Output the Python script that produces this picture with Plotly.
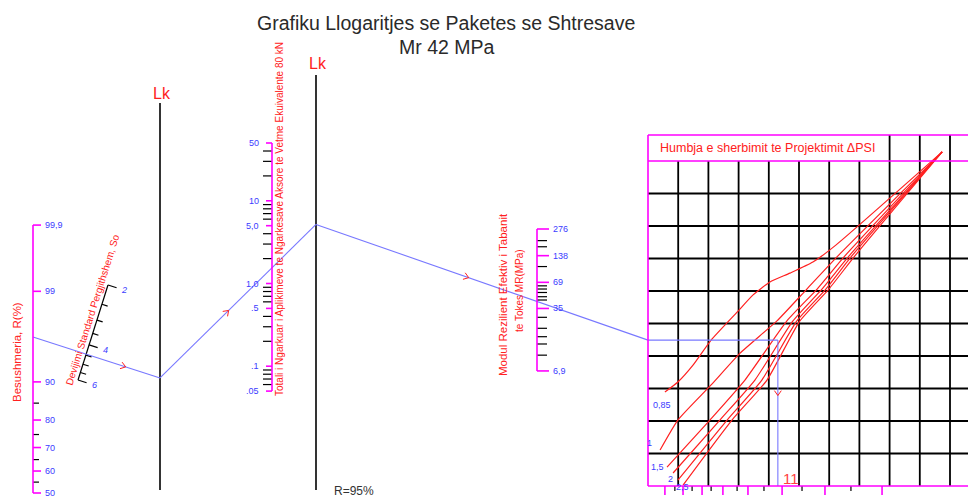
import math
from statistics import NormalDist
import plotly.graph_objects as go

# ------------------------- data -------------------------
title_main = "Grafiku Llogaritjes se Paketes se Shtresave"
title_sub = "Mr 42 MPa"

# Reliability axis R (%)
R_major = [99.9, 99, 90, 80, 70, 60, 50]
R_major_labels = ["99,9", "99", "90", "80", "70", "60", "50"]
R_minor = [85, 75, 65, 55]

# Overall standard deviation So
So_major = [2, 4, 6]
So_major_labels = ["2", "4", "6"]
So_minor = [2.5, 3, 3.5, 4.5, 5, 5.5]

# Total ESAL (millions)
W18_major = [50, 10, 5, 1, 0.5, 0.1, 0.05]
W18_major_labels = ["50", "10", "5,0", "1,0", ".5", ".1", ".05"]
W18_minor = [40, 30, 20, 9, 8, 7, 6, 4, 3, 2, 0.9, 0.8, 0.7, 0.6,
             0.4, 0.3, 0.2, 0.09, 0.08, 0.07, 0.06]

# Subgrade resilient modulus MR (MPa)
Mr_major = [276, 138, 69, 35, 6.9]
Mr_major_labels = ["276", "138", "69", "35", "6,9"]
Mr_minor = [204, 174, 104, 63, 58, 53, 47.5, 43.6, 27.8, 20.9, 16.8, 13.9, 10.4]

# Design solution
R_design = 96.4
So_design = 4.45
W18_design = 1.55
Mr_design = 42
grid_design = 4.3          # grid column where the result drops down
result_label = "11"
reliability_note = "R=95%"

# Serviceability-loss curves (grid units: column, row)
dpsi_labels = ["0,85", "1", "1,5", "2", "2,5", ""]
dpsi_curves_x = [
    [0.56, 0.99, 1.49, 2.09, 2.95, 3.48, 4.04, 4.70, 5.46, 6.23, 9.74],
    [0.40, 0.99, 2.09, 3.05, 4.27, 5.26, 6.29, 9.74],
    [0.63, 2.05, 3.21, 4.60, 5.60, 6.52, 9.74],
    [0.83, 2.38, 3.54, 4.80, 5.76, 6.66, 9.74],
    [0.99, 2.62, 3.77, 4.93, 5.89, 6.75, 9.74],
    [1.16, 2.78, 3.94, 5.03, 5.99, 6.85, 9.74],
]
dpsi_curves_y = [
    [2.89, 3.20, 3.72, 4.49, 5.35, 5.88, 6.28, 6.55, 6.89, 7.42, 10.28],
    [1.11, 2.03, 3.11, 4.09, 5.08, 6.06, 7.08, 10.28],
    [0.58, 2.03, 3.26, 5.08, 6.06, 7.08, 10.28],
    [0.40, 2.03, 3.26, 5.08, 6.06, 7.08, 10.28],
    [0.18, 2.03, 3.26, 5.08, 6.06, 7.08, 10.28],
    [0.03, 2.03, 3.26, 5.08, 6.06, 7.08, 10.28],
]
dpsi_label_pos = [(0.45, 2.5), (0.05, 1.32), (0.3, 0.58), (0.75, 0.22), (1.15, -0.02), (0, 0)]

# bottom scale ticks (grid units)
bottom_major = [0.56, 1.16, 1.79, 2.48, 3.31, 4.44, 5.86, 7.75]
bottom_minor = [0.89, 1.46, 2.09, 2.95, 3.84, 5.10, 6.72]

header_text = "Humbja e sherbimit te Projektimit ΔPSI"
R_title = "Besushmeria, R(%)"
So_title = "Devijimi Standard Pergjithshem, So"
W18_title = "Totali i Ngarkuar i Aplikimeve te Ngarkesave Aksore te Vetme Ekuivalente 80 kN"
Mr_title_1 = "Modul Rezilient Efektiv i Tabanit"
Mr_title_2 = "te Tokes MR(MPa)"
pivot_label = "Lk"

# ------------------------- scales -------------------------
W, H = 968, 497
FONT = "Liberation Sans, Arial, sans-serif"
BLACK = "#000000"
MAG = "#ff00ff"
BLUE_TXT = "#3b3bff"
RED = "#ff2020"
BLUE_LN = "#7878ff"

ND = NormalDist()
R_X = 33
def yR(v):
    return 493 - 86.7 * ND.inv_cdf(v / 100.0)

SO_BOT = (78.0, 380.0)   # value 6
SO_TOP = (108.0, 285.0)  # value 2
def so_pt(v):
    t = math.log(6.0 / v) / math.log(3.0)
    return (SO_BOT[0] + (SO_TOP[0] - SO_BOT[0]) * t,
            SO_BOT[1] + (SO_TOP[1] - SO_BOT[1]) * t)

W_X = 272
def yW(v):
    return 143 + (math.log10(50) - math.log10(v)) * 82.7

M_X = 537
def yM(v):
    return 229 + (math.log10(276) - math.log10(v)) * 88.6

LK1_X, LK2_X = 160, 316

G_X0, G_DX = 648.0, 30.2
G_Y0, G_DY = 486.0, 32.5
def GX(g):
    return G_X0 + G_DX * g
def GY(g):
    return G_Y0 - G_DY * g

# ------------------------- drawing helpers -------------------------
lines = {}
order = []
def seg(key, x0, y0, x1, y1):
    if key not in lines:
        lines[key] = ([], [])
        order.append(key)
    xs, ys = lines[key]
    xs += [x0, x1, None]
    ys += [y0, y1, None]

annots = []
def text(x, y, s, size=9, color=BLUE_TXT, xa="center", ya="middle", angle=0, italic=False):
    f = dict(family=FONT, size=size, color=color)
    if italic:
        f["style"] = "italic"
    annots.append(dict(x=x, y=y, xref="x", yref="y", text=s, showarrow=False,
                       xanchor=xa, yanchor=ya, textangle=angle, font=f))

K_GRID = (BLACK, 1.8)
K_PIV = (BLACK, 1.6)
K_TICK = (BLACK, 1.2)
K_MAG = (MAG, 1.6)
K_BLUE = (BLUE_LN, 1.1)
K_ARR = (RED, 1.0)

# ---- grid (right panel) ----
for c in range(1, 11):
    top = 10.8 if c >= 8 else 10.0
    seg(K_GRID, GX(c), GY(0), GX(c), GY(top))
for r in range(1, 10):
    seg(K_GRID, GX(0), GY(r), W, GY(r))
for g in bottom_minor:
    seg(K_TICK, GX(g), GY(0), GX(g), GY(0) + 5)

# ---- R axis ----
seg(K_MAG, R_X, yR(99.9), R_X, yR(50))
for v, lab in zip(R_major, R_major_labels):
    seg(K_MAG, R_X, yR(v), R_X + 8, yR(v))
    text(R_X + 10, yR(v), lab, size=9, xa="left")
for v in R_minor:
    seg(K_TICK, R_X, yR(v), R_X + 6, yR(v))
text(17, 352, R_title, size=11.5, color=RED, angle=-90)

# ---- So axis ----
bx, by = so_pt(6)
tx, ty = so_pt(2)
seg(K_TICK, bx, by, tx, ty)
dx, dy = tx - bx, ty - by
L = math.hypot(dx, dy)
nx, ny = -dy / L, dx / L
for v, lab in zip(So_major, So_major_labels):
    px, py = so_pt(v)
    seg(K_TICK, px, py, px + nx * 9, py + ny * 9)
    text(px + nx * 17, py + ny * 17, lab, size=9, italic=True)
for v in So_minor:
    px, py = so_pt(v)
    seg(K_TICK, px, py, px + nx * 6, py + ny * 6)
ang = math.degrees(math.atan2(-dy, dx))
mx, my = so_pt(2.73)
text(mx - nx * 7, my - ny * 7, So_title, size=10, color=RED, angle=-ang)

# ---- pivot lines ----
seg(K_PIV, LK1_X, 103, LK1_X, 490)
seg(K_PIV, LK2_X, 75, LK2_X, 490)
text(LK1_X + 2, 93, pivot_label, size=16, color=RED)
text(LK2_X + 2, 63, pivot_label, size=16, color=RED)

# ---- W18 axis ----
seg(K_MAG, W_X, yW(50), W_X, yW(0.05))
for v in W18_minor:
    seg(K_TICK, W_X - 9, yW(v), W_X, yW(v))
for v, lab in zip(W18_major, W18_major_labels):
    seg(K_MAG, W_X - 6, yW(v), W_X, yW(v))
    text(W_X - 11, yW(v), lab, size=9, xa="right")
text(W_X + 7, 219, W18_title, size=10, color=RED, angle=-90)

# ---- Mr axis ----
seg(K_MAG, M_X, yM(276), M_X, yM(6.9))
for v in Mr_minor:
    seg(K_TICK, M_X, yM(v), M_X + 10, yM(v))
for v, lab in zip(Mr_major, Mr_major_labels):
    seg(K_MAG, M_X, yM(v), M_X + 12, yM(v))
    text(M_X + 14, yM(v), lab, size=9, xa="left")
text(503, 295, Mr_title_1, size=11.5, color=RED, angle=-90)
text(519, 291, Mr_title_2, size=10, color=RED, angle=-90)

# ---- design path ----
def line_at_x(p, q, x):
    return p[1] + (q[1] - p[1]) * (x - p[0]) / (q[0] - p[0])

pR = (R_X, yR(R_design))
pSo = so_pt(So_design)
piv1 = (LK1_X, line_at_x(pR, pSo, LK1_X))
pW = (W_X, yW(W18_design))
piv2 = (LK2_X, line_at_x(piv1, pW, LK2_X))
pM = (M_X, yM(Mr_design))
pG = (GX(0), line_at_x(piv2, pM, GX(0)))
pC = (GX(grid_design), pG[1])
pB = (GX(grid_design), GY(0))
path = [pR, piv1, piv2, pG, pC, pB]
for a, b in zip(path[:-1], path[1:]):
    seg(K_BLUE, a[0], a[1], b[0], b[1])

def chevron(a, b, frac, size=6):
    x = a[0] + (b[0] - a[0]) * frac
    y = a[1] + (b[1] - a[1]) * frac
    ux, uy = b[0] - a[0], b[1] - a[1]
    l = math.hypot(ux, uy)
    ux, uy = ux / l, uy / l
    for s in (1, -1):
        c, sn = math.cos(math.radians(35 * s)), math.sin(math.radians(35 * s))
        rx = -(ux * c - uy * sn)
        ry = -(ux * sn + uy * c)
        seg(K_ARR, x, y, x + rx * size, y + ry * size)

chevron(pR, piv1, 0.73)
chevron(piv1, piv2, 0.44)
chevron(piv2, pG, 0.46)
chevron(pC, pB, 0.38)
text(pB[0] + 3, pB[1] - 8, result_label, size=15, color="#ff4040", xa="left")
text(332, 491, reliability_note, size=12, color="#333333", xa="left")

# ---- traces ----
traces = []
for key in order:
    if key in (K_MAG, K_BLUE, K_ARR):
        continue
    xs, ys = lines[key]
    traces.append(go.Scatter(x=xs, y=ys, mode="lines", hoverinfo="skip",
                             line=dict(color=key[0], width=key[1])))

fig = go.Figure()
for tr in traces:
    fig.add_trace(tr)

for cx, cy in zip(dpsi_curves_x, dpsi_curves_y):
    fig.add_trace(go.Scatter(x=[GX(v) for v in cx], y=[GY(v) for v in cy],
                             mode="lines", hoverinfo="skip",
                             line=dict(color=RED, width=1.2, shape="spline", smoothing=0.5)))
for lab, (lx, ly) in zip(dpsi_labels, dpsi_label_pos):
    if lab:
        text(GX(lx), GY(ly), lab, size=9, xa="center")

# magenta frames of right panel
for g in bottom_major:
    seg(K_MAG, GX(g), GY(0), GX(g), GY(0) + 9)
seg(K_MAG, GX(0), GY(0), GX(0), GY(10.8))
seg(K_MAG, GX(0), GY(0), W, GY(0))
seg(K_MAG, GX(0), GY(10), W, GY(10))
seg(K_MAG, GX(0), GY(10.8), W, GY(10.8))
text(GX(0.33), GY(10.4), header_text, size=12.5, color=RED, xa="left")

for key in (K_BLUE, K_ARR, K_MAG):
    xs, ys = lines[key]
    fig.add_trace(go.Scatter(x=xs, y=ys, mode="lines", hoverinfo="skip",
                             line=dict(color=key[0], width=key[1])))

text(446, 23, title_main, size=19.5, color="#2a2a2a")
text(447, 47, title_sub, size=19.5, color="#2a2a2a")

fig.update_layout(
    width=W, height=H, autosize=False,
    margin=dict(l=0, r=0, t=0, b=0),
    paper_bgcolor="white", plot_bgcolor="white",
    showlegend=False,
    xaxis=dict(range=[0, W], visible=False, fixedrange=True),
    yaxis=dict(range=[H, 0], visible=False, fixedrange=True),
    annotations=annots,
)
fig.write_html("out.html", config={"displayModeBar": False},
               post_script="document.body.style.margin='0';document.body.style.padding='0';")
